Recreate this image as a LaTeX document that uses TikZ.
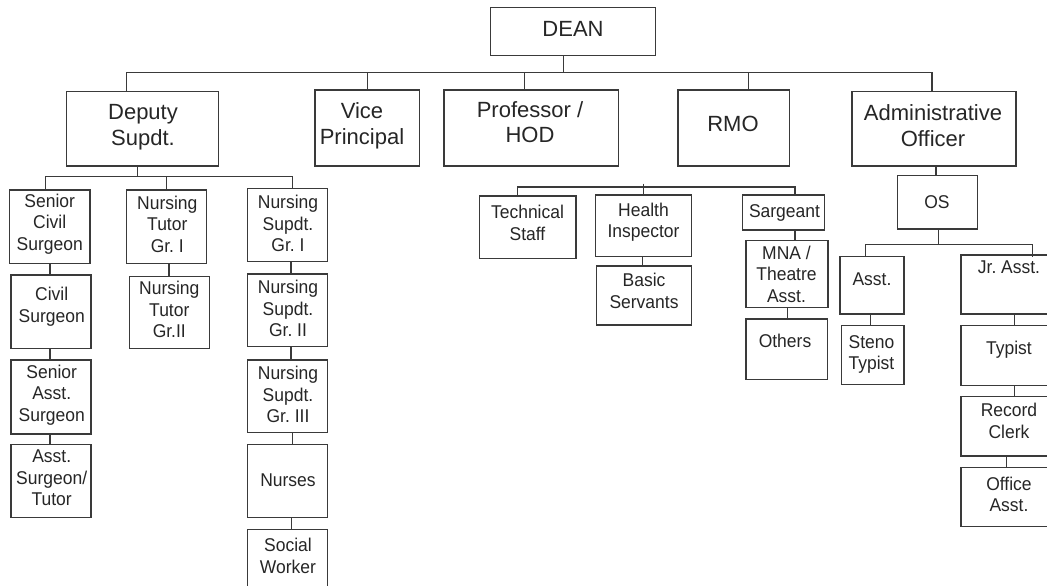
\documentclass[tikz,border=0pt]{standalone}
\usepackage{fontspec}
\setmainfont{Liberation Sans}
\newfontfamily\narrowf{Liberation Sans}[FakeStretch=0.945]
\usetikzlibrary{fit}
\definecolor{ln}{HTML}{3A3A3A}
\definecolor{tx}{HTML}{262626}
\begin{document}
\begin{tikzpicture}[x=1pt,y=-1pt,
  bx/.style={draw=ln, line width=1.2pt, inner sep=0pt},
  cn/.style={draw=ln, line width=1.2pt},
  big/.style={font=\fontsize{22}{25.5}\selectfont\frenchspacing, text=tx, align=center, inner sep=0pt},
  sm/.style={font=\narrowf\fontsize{18.5}{21.5}\selectfont\frenchspacing, text=tx, align=center, inner sep=0pt}]
\useasboundingbox (0,0) rectangle (1047,586);
\clip (0,0) rectangle (1047,586);
\fill[white] (0,0) rectangle (1047,586);

% ---- top level boxes
\node[bx, fit={(490.7,7.3) (655.7,55.7)}] (dean) {};
\node[big] (dean-t) at (573,29) {DEAN};
\node[bx, fit={(66.7,91.7) (218.7,166)}] (dep) {};
\node[big] (dep-t) at (143,127) {Deputy\\Supdt.};
\node[bx, fit={(315,90) (419.3,166)}] (vp) {};
\node[big] (vp-t) at (362,126) {Vice\\Principal};
\node[bx, fit={(444,90) (618.7,166)}] (prof) {};
\node[big] (prof-t) at (530,122) {Professor /\\HOD};
\node[bx, fit={(678,90) (789.7,166)}] (rmo) {};
\node[big] (rmo-t) at (733,124) {RMO};
\node[bx, fit={(852,91.7) (1016,166)}] (adm) {};
\node[big] (adm-t) at (933,125.5) {Administrative\\Officer};

% ---- deputy subtree
\node[bx, fit={(9.3,190) (90,263.3)}] (scs) {};
\node[sm] (scs-t) at (49.7,224) {Senior\\Civil\\Surgeon};
\node[bx, fit={(11,275) (91,348.3)}] (cs) {};
\node[sm] (cs-t) at (51.7,306.5) {Civil\\Surgeon};
\node[bx, fit={(11,360) (91,434)}] (sas) {};
\node[sm] (sas-t) at (51.7,395) {Senior\\Asst.\\Surgeon};
\node[bx, fit={(11,444.3) (91,517.7)}] (ast) {};
\node[sm] (ast-t) at (51.7,478) {Asst.\\Surgeon/\\Tutor};

\node[bx, fit={(126.7,190) (206.7,263.3)}] (nt1) {};
\node[sm] (nt1-t) at (167.3,224) {Nursing\\Tutor\\Gr. I};
\node[bx, fit={(129.3,276.7) (209.3,348.3)}] (nt2) {};
\node[sm] (nt2-t) at (169.3,309.5) {Nursing\\Tutor\\Gr.II};

\node[bx, fit={(247.3,188.3) (327.7,261.7)}] (ns1) {};
\node[sm] (ns1-t) at (288,223.5) {Nursing\\Supdt.\\Gr. I};
\node[bx, fit={(247.3,274) (327.7,346.7)}] (ns2) {};
\node[sm] (ns2-t) at (288,308.5) {Nursing\\Supdt.\\Gr. II};
\node[bx, fit={(247.3,360) (327.7,432.3)}] (ns3) {};
\node[sm] (ns3-t) at (288,394.5) {Nursing\\Supdt.\\Gr. III};
\node[bx, fit={(247.3,444.3) (327.7,517.7)}] (nur) {};
\node[sm] (nur-t) at (288,480) {Nurses};
\node[bx, fit={(247.3,529.3) (327.7,600)}] (sw) {};
\node[sm] (sw-t) at (288,556) {Social\\Worker};

% ---- professor subtree
\node[bx, fit={(479.3,196) (576,258.3)}] (ts) {};
\node[sm] (ts-t) at (527.5,223) {Technical\\Staff};
\node[bx, fit={(595.5,195) (691.7,256.7)}] (hi) {};
\node[sm] (hi-t) at (643.5,222) {Health\\Inspector};
\node[bx, fit={(596.7,266) (691.7,325)}] (bs) {};
\node[sm] (bs-t) at (644,291) {Basic\\Servants};
\node[bx, fit={(742.7,195) (824.3,230)}] (sg) {};
\node[sm] (sg-t) at (784.5,212.5) {Sargeant};
\node[bx, fit={(746,240.7) (828,307.3)}] (mna) {};
\node[sm] (mna-t) at (786.5,274) {MNA /\\Theatre\\Asst.};
\node[bx, fit={(746,319) (827.3,379.3)}] (oth) {};
\node[sm] (oth-t) at (785,341) {Others};

% ---- admin subtree
\node[bx, fit={(897.7,175.7) (977.3,229)}] (os) {};
\node[sm] (os-t) at (937,202) {OS};
\node[bx, fit={(840,256.7) (904,314)}] (as) {};
\node[sm] (as-t) at (872,279) {Asst.};
\node[bx, fit={(841.3,325.7) (904,384.3)}] (st) {};
\node[sm] (st-t) at (871.5,354.5) {Steno\\Typist};
\node[bx, fit={(961,255) (1060,314)}] (ja) {};
\node[sm] (ja-t) at (1009,267.5) {Jr. Asst.};
\node[bx, fit={(961,325.7) (1060,385.7)}] (ty) {};
\node[sm] (ty-t) at (1009,350) {Typist};
\node[bx, fit={(961,396.7) (1060,456)}] (rc) {};
\node[sm] (rc-t) at (1009,421) {Record\\Clerk};
\node[bx, fit={(961,467.3) (1060,526.7)}] (oa) {};
\node[sm] (oa-t) at (1009,494.5) {Office\\Asst.};

% ---- connectors: top level
\coordinate (j0) at (563.7,72.7);
\draw[cn] (563.7,0 |- dean.south) -- (j0);
\foreach \n/\x in {dep/126.7, vp/367.3, prof/524.4, rmo/748.7, adm/932}
  \draw[cn] (j0) -| (\x,0 |- \n.north);

% deputy
\coordinate (j1) at (137.3,176.7);
\draw[cn] (137.3,0 |- dep.south) -- (j1);
\foreach \n/\x in {scs/45.7, nt1/166.7, ns1/292.3}
  \draw[cn] (j1) -| (\x,0 |- \n.north);
\draw[cn] (50,0 |- scs.south) -- (50,0 |- cs.north);
\draw[cn] (50,0 |- cs.south) -- (50,0 |- sas.north);
\draw[cn] (50,0 |- sas.south) -- (50,0 |- ast.north);
\draw[cn] (169,0 |- nt1.south) -- (169,0 |- nt2.north);
\draw[cn] (291,0 |- ns1.south) -- (291,0 |- ns2.north);
\draw[cn] (291,0 |- ns2.south) -- (291,0 |- ns3.north);
\draw[cn] (292.7,0 |- ns3.south) -- (292.7,0 |- nur.north);
\draw[cn] (291.7,0 |- nur.south) -- (291.7,0 |- sw.north);

% professor
\coordinate (j2) at (643.3,187);
\draw[cn] ([yshift=3.5pt]j2) -- (643.3,0 |- hi.north);
\foreach \n/\x in {ts/517.3, sg/795}
  \draw[cn] (j2) -| (\x,0 |- \n.north);
\draw[cn] (642.3,0 |- hi.south) -- (642.3,0 |- bs.north);
\draw[cn] (795,0 |- sg.south) -- (795,0 |- mna.north);
\draw[cn] (787.7,0 |- mna.south) -- (787.7,0 |- oth.north);

% admin
\draw[cn] (936,0 |- adm.south) -- (936,0 |- os.north);
\coordinate (j3) at (938.3,244.3);
\draw[cn] (938.3,0 |- os.south) -- (j3);
\draw[cn] (j3) -| (865.7,0 |- as.north);
\draw[cn] (j3) -| ([yshift=-3pt]1032.7,0 |- ja.north);
\draw[cn] (870.7,0 |- as.south) -- (870.7,0 |- st.north);
\draw[cn] (1014.3,0 |- ja.south) -- (1014.3,0 |- ty.north);
\draw[cn] (1014.3,0 |- ty.south) -- (1014.3,0 |- rc.north);
\draw[cn] (1006.7,0 |- rc.south) -- (1006.7,0 |- oa.north);
\end{tikzpicture}
\end{document}
